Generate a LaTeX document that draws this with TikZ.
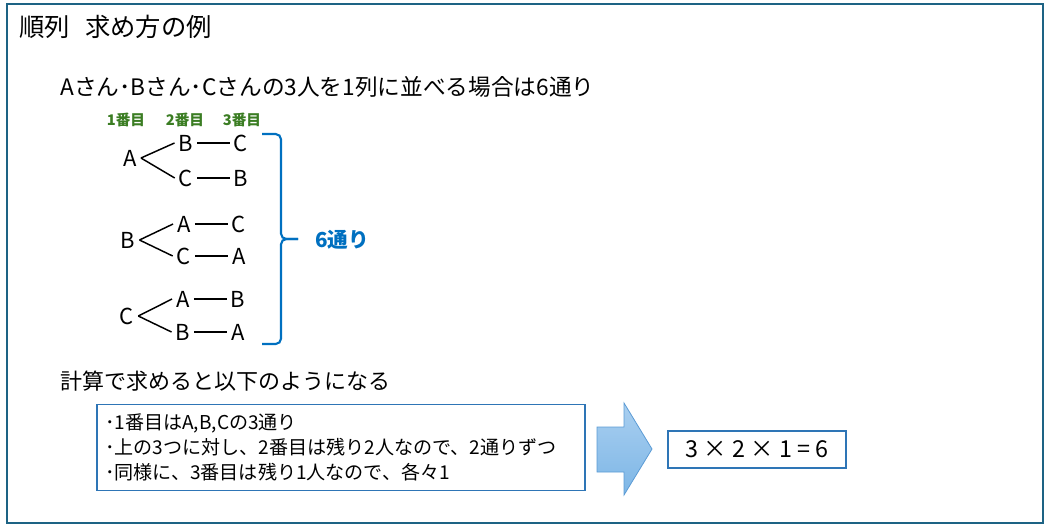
\documentclass[tikz,border=0pt]{standalone}
\usepackage{fontspec}
\setmainfont{Noto Sans CJK JP}
\usepackage{xcolor}
\usetikzlibrary{calc}
\definecolor{frame}{HTML}{1D6384}
\definecolor{note}{HTML}{2E75B6}
\definecolor{total}{HTML}{0070C0}
\definecolor{rank}{HTML}{3B7D23}
\definecolor{arrowtop}{HTML}{A9CFF0}
\definecolor{arrowbot}{HTML}{7DB6E6}
\definecolor{arrowedge}{HTML}{5B9BD5}
\tikzset{
  ttl/.style={anchor=west, inner sep=0pt, font=\fontsize{19pt}{22pt}\selectfont},
  txt/.style={anchor=west, inner sep=0pt, font=\fontsize{16.5pt}{20pt}\selectfont},
  rnk/.style={inner sep=0pt, text=rank, font=\bfseries\fontsize{11pt}{13pt}\selectfont},
  ltr/.style={inner sep=3pt, font=\fontsize{16.5pt}{18pt}\selectfont},
  tie/.style={line width=1.1pt},
  brc/.style={draw=total, line width=1.6pt, rounded corners=4pt},
  sumlbl/.style={anchor=west, inner sep=0pt, text=total, font=\bfseries\fontsize{15.5pt}{18pt}\selectfont},
  notebox/.style={draw=note, line width=0.8pt, minimum width=366pt, minimum height=65pt,
    text width=354pt, inner xsep=6pt, align=left, font=\fontsize{14.3pt}{18.75pt}\selectfont},
  resbox/.style={draw=note, line width=0.9pt, minimum width=133.5pt, minimum height=27.75pt,
    font=\fontsize{17.5pt}{20pt}\selectfont},
  bigarr/.style={draw=arrowedge, line width=0.6pt, top color=arrowtop, bottom color=arrowbot}
}

\begin{document}
\begin{tikzpicture}[x=0.75pt, y=-0.75pt]
\useasboundingbox (0,0) rectangle (1049,529);
\draw[frame, line width=1.5pt] (7,4) rectangle (1043,523);

\node[ttl] (title) at (19,27) {順列\hspace{0.6em}求め方の例};
\node[txt, font=\fontsize{17pt}{20pt}\selectfont] (rule) at (60,87) {Aさん･Bさん･Cさんの3人を1列に並べる場合は6通り};

% column heads
\node[rnk] (pos1) at (126,120) {1番目};
\node[rnk] (pos2) at (185,120) {2番目};
\node[rnk] (pos3) at (242,120) {3番目};

% A first
\node[ltr] (pA) at (130,158) {A};
\node[ltr] (pAB) at (186,143) {B};
\node[ltr] (pABC) at (241,143) {C};
\node[ltr] (pAC) at (186,178) {C};
\node[ltr] (pACB) at (241,178) {B};
\draw[tie] (pA.east) -- (pAB.west);
\draw[tie] (pA.east) -- (pAC.west);
\draw[tie] (pAB) -- (pABC);
\draw[tie] (pAC) -- (pACB);

% B first
\node[ltr] (pB) at (128,240) {B};
\node[ltr] (pBA) at (184,224) {A};
\node[ltr] (pBAC) at (239,224) {C};
\node[ltr] (pBC) at (184,256) {C};
\node[ltr] (pBCA) at (239,256) {A};
\draw[tie] (pB.east) -- (pBA.west);
\draw[tie] (pB.east) -- (pBC.west);
\draw[tie] (pBA) -- (pBAC);
\draw[tie] (pBC) -- (pBCA);

% C first
\node[ltr] (pC) at (127,316) {C};
\node[ltr] (pCA) at (183,299) {A};
\node[ltr] (pCAB) at (238,299) {B};
\node[ltr] (pCB) at (183,332) {B};
\node[ltr] (pCBA) at (238,332) {A};
\draw[tie] (pC.east) -- (pCA.west);
\draw[tie] (pC.east) -- (pCB.west);
\draw[tie] (pCA) -- (pCAB);
\draw[tie] (pCB) -- (pCBA);

% brace and count
\coordinate (brtop) at (262,134);
\coordinate (brbot) at (262,344);
\coordinate (brtip) at (298,239);
\draw[brc] (brtop) -- ++(19,0) |- (brtip);
\draw[brc] (brbot) -- ++(19,0) |- (brtip);
\node[sumlbl] (count) at (315,240) {6通り};

\node[txt] (calc) at (60,381) {計算で求めると以下のようになる};

\node[notebox] (steps) at (341,447.5) {･1番目はA,B,Cの3通り\\
･上の3つに対し、2番目は残り2人なので、2通りずつ\\
･同様に、3番目は残り1人なので、各々1};

\draw[bigarr] (597,427) -- (624,427) -- (624,403) -- (652,449) -- (624,495) -- (624,472) -- (597,472) -- cycle;

\node[resbox] (result) at (757,449.5) {3 × 2 × 1 = 6};
\end{tikzpicture}
\end{document}
